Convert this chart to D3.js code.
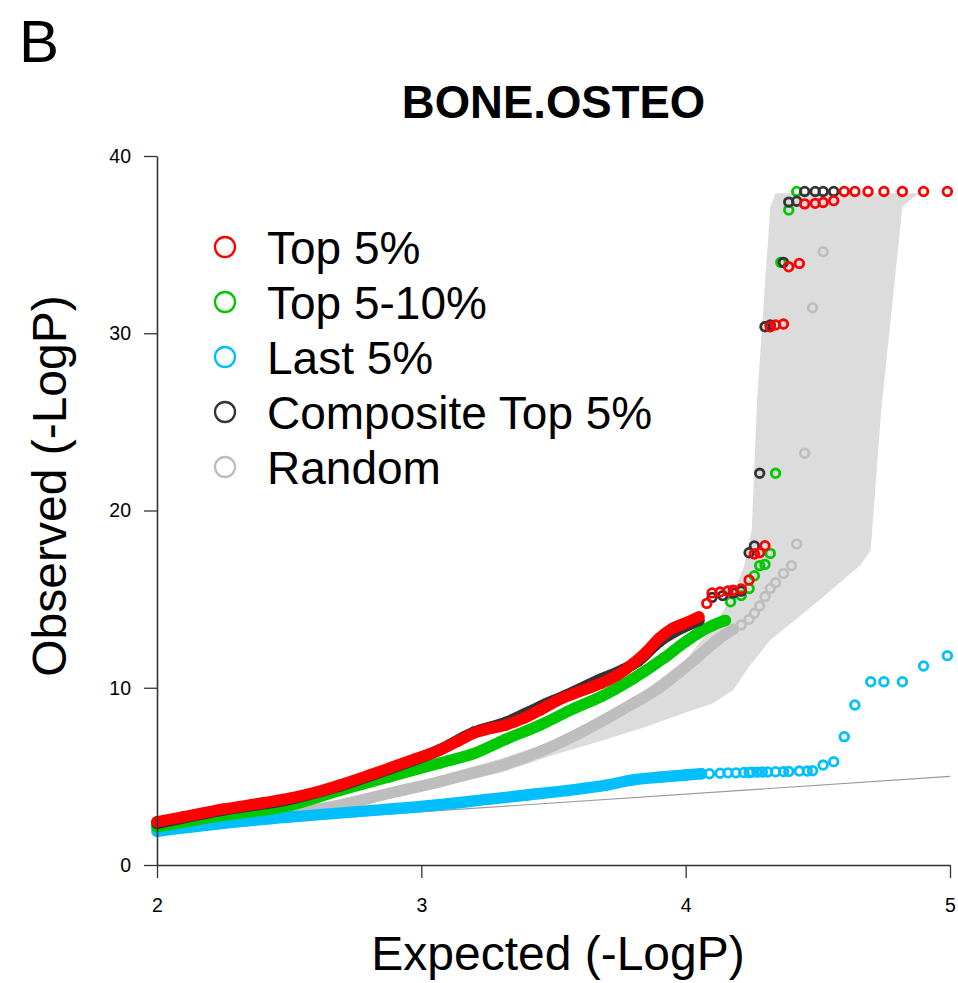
<!DOCTYPE html>
<html>
<head>
<meta charset="utf-8">
<script src="https://cdn.jsdelivr.net/npm/d3@7"></script>
<style>
  html, body { margin: 0; padding: 0; background: #ffffff; }
  svg { display: block; }
  text { font-family: "Liberation Sans", Arial, Helvetica, sans-serif; fill: #000; }
</style>
</head>
<body>
<svg id="chart" width="958" height="983"></svg>
<script>
// Axis ticks
const xTicks = [2, 3, 4, 5];
const yTicks = [0, 10, 20, 30, 40];

// Legend entries
const seriesNames = ["Top 5%", "Top 5-10%", "Last 5%", "Composite Top 5%", "Random"];

// Observed vs expected -log10(P), [expected, observed].
// "Dense" parts are the long runs of overlapping points; "tail" parts are the separated points.
const top5Dense = [[2.00,2.44],[2.10,2.72],[2.25,3.15],[2.40,3.5],[2.50,3.76],[2.60,4.1],[2.69,4.5],[2.80,5.05],[2.88,5.47],[2.98,6.0],[3.07,6.49],[3.14,7.0],[3.20,7.45],[3.26,7.7],[3.32,7.9],[3.39,8.3],[3.45,8.75],[3.51,9.25],[3.60,9.8],[3.68,10.25],[3.74,10.7],[3.80,11.35],[3.85,12.0],[3.90,12.8],[3.95,13.35],[3.99,13.6],[4.05,14.0]];
const top5Tail = [[4.08,14.76],[4.10,15.35],[4.13,15.4],[4.16,15.46],[4.18,15.5],[4.21,15.57],[4.24,16.08],[4.26,17.55],[4.28,17.62],[4.30,18.01],[4.32,30.37],[4.34,30.47],[4.37,30.52],[4.39,33.75],[4.43,33.94],[4.45,37.3],[4.49,37.33],[4.52,37.38],[4.56,37.48],[4.60,38],[4.64,38],[4.69,38],[4.75,38],[4.82,38],[4.90,38],[4.99,38]];

const top5to10Dense = [[2.00,2.15],[2.25,2.8],[2.50,3.35],[2.69,4.2],[2.88,4.98],[3.07,5.75],[3.20,6.3],[3.32,7.1],[3.45,7.9],[3.58,8.85],[3.68,9.5],[3.80,10.5],[3.92,11.7],[4.00,12.6],[4.05,13.1],[4.10,13.5],[4.15,13.8]];
const top5to10Tail = [[4.17,14.85],[4.21,15.2],[4.24,15.6],[4.26,16.32],[4.28,16.89],[4.30,16.96],[4.32,17.58],[4.34,22.1],[4.36,34.0],[4.39,36.95],[4.42,38]];

const last5Dense = [[2.00,1.9],[2.25,2.35],[2.50,2.7],[2.75,3.0],[3.00,3.3],[3.25,3.7],[3.40,3.95],[3.55,4.2],[3.70,4.5],[3.80,4.8],[3.90,4.95],[4.00,5.08],[4.06,5.15]];
const last5Tail = [[4.09,5.15],[4.13,5.18],[4.16,5.2],[4.19,5.2],[4.22,5.22],[4.24,5.22],[4.25,5.24],[4.27,5.24],[4.29,5.25],[4.31,5.25],[4.34,5.26],[4.37,5.27],[4.39,5.28],[4.43,5.3],[4.46,5.3],[4.48,5.32],[4.52,5.64],[4.56,5.83],[4.60,7.24],[4.64,9.03],[4.70,10.34],[4.75,10.34],[4.82,10.34],[4.90,11.23],[4.99,11.81]];

const compositeDense = [[2.00,2.35],[2.25,3.1],[2.50,3.7],[2.69,4.45],[2.88,5.42],[3.07,6.5],[3.20,7.5],[3.32,8.05],[3.45,8.95],[3.55,9.6],[3.68,10.5],[3.76,11.0],[3.82,11.5],[3.90,12.6],[3.99,13.4],[4.05,13.8]];
const compositeTail = [[4.10,15.1],[4.14,15.2],[4.18,15.35],[4.21,15.45],[4.24,17.62],[4.26,18.0],[4.28,22.1],[4.30,30.37],[4.32,30.47],[4.37,34.0],[4.39,37.4],[4.42,37.45],[4.45,38],[4.49,38],[4.52,38],[4.56,38]];

const randomDense = [[2.00,2.25],[2.25,2.6],[2.50,2.95],[2.69,3.35],[2.88,4.05],[3.07,4.7],[3.20,5.2],[3.32,5.7],[3.45,6.4],[3.58,7.3],[3.70,8.25],[3.80,9.1],[3.90,10.0],[3.97,10.8],[4.05,11.8],[4.12,12.7],[4.18,13.3]];
const randomTail = [[4.21,13.54],[4.24,13.86],[4.26,14.2],[4.28,14.61],[4.30,15.14],[4.32,15.6],[4.34,15.93],[4.37,16.45],[4.40,16.89],[4.42,18.11],[4.45,23.23],[4.48,31.44],[4.52,34.6]];

// Envelope of the random sets: upper edge left to right, then lower edge right to left
const bandUpper = [[2.00,2.35],[2.50,3.1],[3.00,4.75],[3.30,6.0],[3.50,7.0],[3.70,8.6],[3.85,9.9],[4.00,11.6],[4.10,13.4],[4.17,15.0],[4.22,16.8],[4.25,18.9],[4.27,26.2],[4.32,37.1],[4.34,37.9],[4.88,37.9]];
const bandLower = [[4.82,37.14],[4.74,25.67],[4.70,17.77],[4.66,16.9],[4.61,16.27],[4.52,15.12],[4.40,13.65],[4.32,12.69],[4.24,11.2],[4.18,9.87],[4.10,9.1],[4.00,8.6],[3.85,7.8],[3.70,7.1],[3.50,6.2],[3.30,5.2],[3.00,4.2],[2.50,2.75],[2.00,2.15]];

// Null expectation line
const nullLine = [[2, 2], [5, 5]];

// Drawing
const colors = {
  top5: "#ff0000",
  top5to10: "#00c800",
  last5: "#00bfff",
  composite: "#333333",
  random: "#bebebe",
  band: "#dcdcdc",
  nullLine: "#9a9a9a"
};

const svg = d3.select("#chart");
const x = d3.scaleLinear().domain([2, 5]).range([157, 950]);
const y = d3.scaleLinear().domain([0, 40]).range([865, 156]);

const R = 4.3, SW = 2.8, BAND_W = 11.4;

// Panel letter and title
svg.append("text").attr("x", 19).attr("y", 62).attr("font-size", 60).text("B");
svg.append("text").attr("x", 553.5).attr("y", 118).attr("text-anchor", "middle")
  .attr("font-size", 45.5).attr("font-weight", "bold").text("BONE.OSTEO");

// Envelope
const lin = d3.line().x(d => x(d[0])).y(d => y(d[1]));
svg.append("path").attr("d", lin(bandUpper.concat(bandLower)) + "Z")
  .attr("fill", colors.band).attr("stroke", "none");

// y = x reference
svg.append("path").attr("d", lin(nullLine)).attr("fill", "none")
  .attr("stroke", colors.nullLine).attr("stroke-width", 1.1);

const smooth = d3.line().x(d => x(d[0])).y(d => y(d[1])).curve(d3.curveMonotoneX);

function drawSeries(dense, tail, color) {
  const g = svg.append("g");
  g.append("path").attr("d", smooth(dense)).attr("fill", "none")
    .attr("stroke", color).attr("stroke-width", BAND_W)
    .attr("stroke-linejoin", "round").attr("stroke-linecap", "round");
  g.selectAll("circle").data(dense.concat(tail)).join("circle")
    .attr("cx", d => x(d[0])).attr("cy", d => y(d[1])).attr("r", R)
    .attr("fill", "none").attr("stroke", color).attr("stroke-width", SW);
}

drawSeries(randomDense, randomTail, colors.random);
drawSeries(last5Dense, last5Tail, colors.last5);
drawSeries(top5to10Dense, top5to10Tail, colors.top5to10);
drawSeries(compositeDense, compositeTail, colors.composite);
drawSeries(top5Dense, top5Tail, colors.top5);

// Axes
const yAxis = svg.append("g").attr("transform", "translate(157,0)")
  .call(d3.axisLeft(y).tickValues(yTicks).tickFormat(d3.format("d"))
    .tickSize(13).tickSizeOuter(0).tickPadding(13));
const xAxis = svg.append("g").attr("transform", "translate(0,865)")
  .call(d3.axisBottom(x).tickValues(xTicks).tickFormat(d3.format("d"))
    .tickSize(13).tickSizeOuter(0).tickPadding(20));
[yAxis, xAxis].forEach(a => {
  a.select(".domain").attr("stroke", "#333").attr("stroke-width", 1.6);
  a.selectAll(".tick line").attr("stroke", "#333").attr("stroke-width", 1.3);
  a.selectAll(".tick text").attr("font-family", "Liberation Sans, Arial, sans-serif")
    .attr("font-size", 19.5).attr("fill", "#000");
});

// Axis titles
svg.append("text").attr("x", 558).attr("y", 970).attr("text-anchor", "middle")
  .attr("font-size", 48).text("Expected (-LogP)");
svg.append("text").attr("transform", "translate(66,486) rotate(-90)")
  .attr("text-anchor", "middle").attr("font-size", 48).text("Observed (-LogP)");

// Legend
const legendColors = [colors.top5, colors.top5to10, colors.last5, colors.composite, colors.random];
const legend = svg.append("g");
seriesNames.forEach((name, i) => {
  const cy = 247 + i * 55;
  legend.append("circle").attr("cx", 225).attr("cy", cy).attr("r", 10)
    .attr("fill", "none").attr("stroke", legendColors[i]).attr("stroke-width", 2.3);
  legend.append("text").attr("x", 267).attr("y", cy + 16.5).attr("font-size", 46).text(name);
});
</script>
</body>
</html>
